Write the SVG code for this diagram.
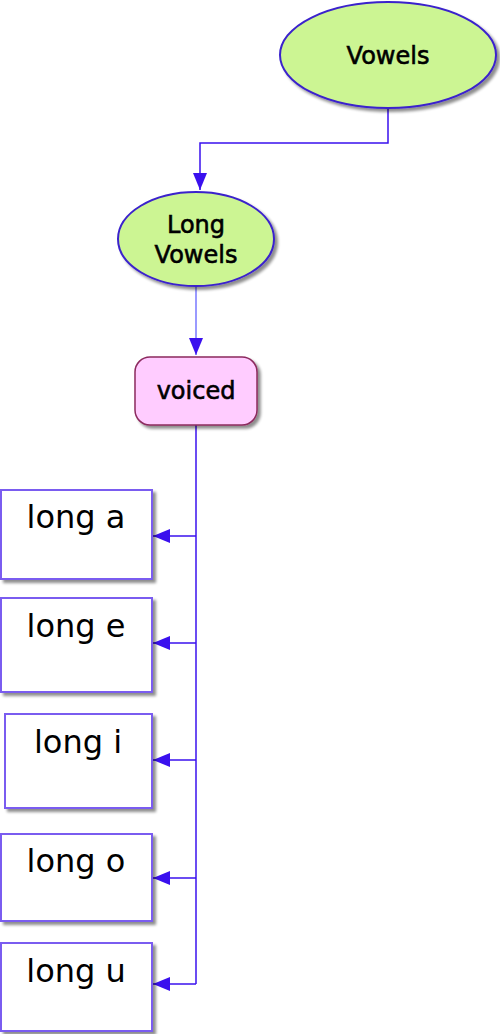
<svg xmlns="http://www.w3.org/2000/svg" width="500" height="1034" viewBox="0 0 500 1034">
<style>
.ell{fill:#ccf593;stroke:#3a22cc;stroke-width:2}
.leaf{fill:#ffffff;stroke:#7a5cf0;stroke-width:2}
.voiced{fill:#ffccff;stroke:#8c2a5e;stroke-width:1.5}
.t{font-family:"DejaVu Sans",sans-serif;fill:#000;text-anchor:middle}
.big{font-size:32px}
.mid{font-size:24px;stroke:#000;stroke-width:0.6}
.con{fill:none;stroke:#3a10ee;stroke-width:1.5}
.light{fill:none;stroke:#9a9aff;stroke-width:2}
</style>
<defs>
<filter id="sh" x="-20%" y="-20%" width="140%" height="140%">
<feGaussianBlur in="SourceAlpha" stdDeviation="1.5"/>
<feOffset dx="3" dy="3" result="b"/>
<feComponentTransfer><feFuncA type="linear" slope="0.45"/></feComponentTransfer>
<feMerge><feMergeNode/><feMergeNode in="SourceGraphic"/></feMerge>
</filter>
<marker id="ah" viewBox="0 0 10 10" refX="10" refY="5" markerWidth="17" markerHeight="14" markerUnits="userSpaceOnUse" orient="auto" preserveAspectRatio="none">
<path d="M0,0 L10,5 L0,10 z" fill="#3a10ee"/>
</marker>
</defs>
<g id="connectors">
<path class="con" d="M388,108 V143 H200 V190" marker-end="url(#ah)"/>
<path class="light" d="M196,286 V355" marker-end="url(#ah)"/>
<path class="con" d="M196,425 V984"/>
<path class="con" d="M196,536 H153" marker-end="url(#ah)"/>
<path class="con" d="M196,643 H153" marker-end="url(#ah)"/>
<path class="con" d="M196,760 H153" marker-end="url(#ah)"/>
<path class="con" d="M196,878 H153" marker-end="url(#ah)"/>
<path class="con" d="M196,984 H153" marker-end="url(#ah)"/>
</g>
<g id="vowels">
<ellipse class="ell" cx="388" cy="55" rx="108" ry="53" filter="url(#sh)"/>
<text class="t mid" x="388" y="64">Vowels</text>
</g>
<g id="long-vowels">
<ellipse class="ell" cx="196" cy="239" rx="78" ry="47" filter="url(#sh)"/>
<text class="t mid" x="196" y="233">Long</text>
<text class="t mid" x="196" y="263">Vowels</text>
</g>
<g id="voiced">
<rect class="voiced" x="135" y="357" width="122" height="68" rx="15" filter="url(#sh)"/>
<text class="t mid" x="196" y="399">voiced</text>
</g>
<g id="long-a">
<rect class="leaf" x="1" y="490" width="151" height="89" filter="url(#sh)"/>
<text class="t big" x="76" y="528">long a</text>
</g>
<g id="long-e">
<rect class="leaf" x="1" y="598" width="151" height="94" filter="url(#sh)"/>
<text class="t big" x="76" y="637">long e</text>
</g>
<g id="long-i">
<rect class="leaf" x="5" y="714" width="147" height="94" filter="url(#sh)"/>
<text class="t big" x="78" y="753">long i</text>
</g>
<g id="long-o">
<rect class="leaf" x="1" y="834" width="151" height="87" filter="url(#sh)"/>
<text class="t big" x="76" y="872">long o</text>
</g>
<g id="long-u">
<rect class="leaf" x="1" y="943" width="151" height="88" filter="url(#sh)"/>
<text class="t big" x="76" y="982">long u</text>
</g>
</svg>
